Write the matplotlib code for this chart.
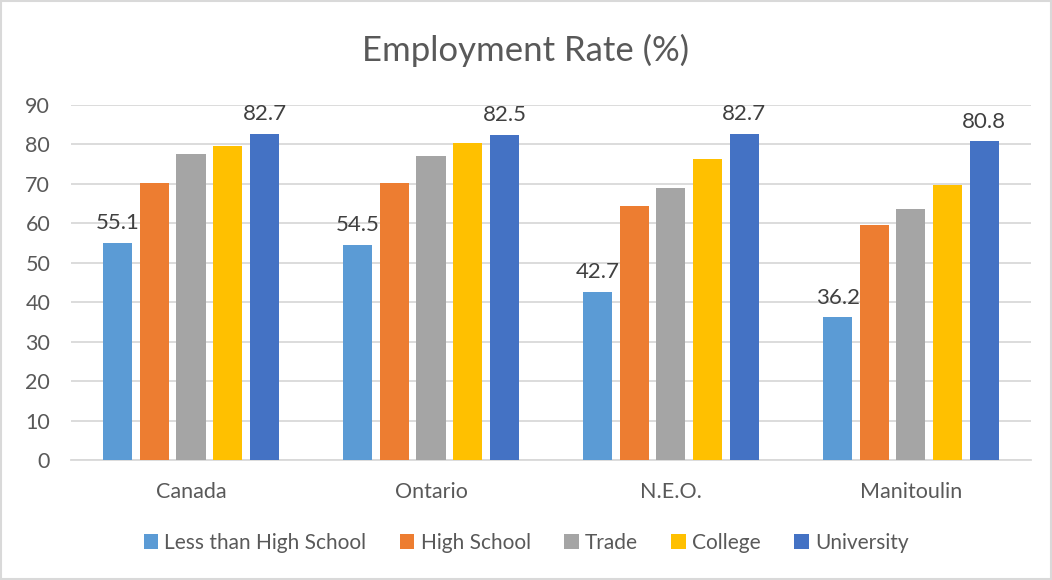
import matplotlib.pyplot as plt
import numpy as np

regions = ['Canada', 'Ontario', 'N.E.O.', 'Manitoulin']
levels = ['Less than High School', 'High School', 'Trade', 'College', 'University']
less_than_hs = [55.1, 54.5, 42.7, 36.2]
high_school = [70.3, 70.3, 64.3, 59.6]
trade = [77.7, 77.0, 68.9, 63.6]
college = [79.7, 80.4, 76.3, 69.7]
university = [82.7, 82.5, 82.7, 80.8]
series = [less_than_hs, high_school, trade, college, university]
colors = ['#5B9BD5', '#ED7D31', '#A5A5A5', '#FFC000', '#4472C4']

plt.rcParams['font.family'] = ['Lato', 'DejaVu Sans']
text_col = '#595959'

fig = plt.figure(figsize=(10.52, 5.8), dpi=100)
ax = fig.add_axes([0.0675, 0.2069, 0.9125, 0.612])

x = np.arange(len(regions))
step = 0.153
width = 0.121
for i, (vals, col, name) in enumerate(zip(series, colors, levels)):
    pos = x + (i - 2) * step
    bars = ax.bar(pos, vals, width, color=col, label=name, zorder=3)
    if i == 0 or i == 4:
        ax.bar_label(bars, labels=[f'{v:.1f}' for v in vals], padding=7,
                     fontsize=16, color='#404040')

ax.set_xlim(-0.5, 3.5)
ax.set_ylim(0, 90)
ax.set_yticks(range(0, 91, 10))
ax.set_xticks(x)
ax.set_xticklabels(regions)
ax.tick_params(axis='both', length=0, labelsize=15.5, labelcolor=text_col)
ax.tick_params(axis='x', pad=16)
ax.tick_params(axis='y', pad=15)
ax.grid(axis='y', color='#D9D9D9', linewidth=1.3, zorder=0)
for s in ['top', 'right', 'left']:
    ax.spines[s].set_visible(False)
ax.spines['bottom'].set_color('#D9D9D9')
ax.spines['bottom'].set_linewidth(1.3)

fig.text(0.5, 0.913, 'Employment Rate (%)', ha='center', va='center',
         fontsize=25, color=text_col)

fig.legend(loc='center', bbox_to_anchor=(0.5, 0.064), ncol=5, frameon=False,
           fontsize=15, labelcolor=text_col, handlelength=0.7, handleheight=0.7,
           handletextpad=0.3, columnspacing=1.6)

fig.patches.append(plt.Rectangle((0.001, 0.001), 0.998, 0.998, transform=fig.transFigure,
                                 fill=False, edgecolor='#D9D9D9', linewidth=1.5))

fig.savefig('out.png', dpi=100)
